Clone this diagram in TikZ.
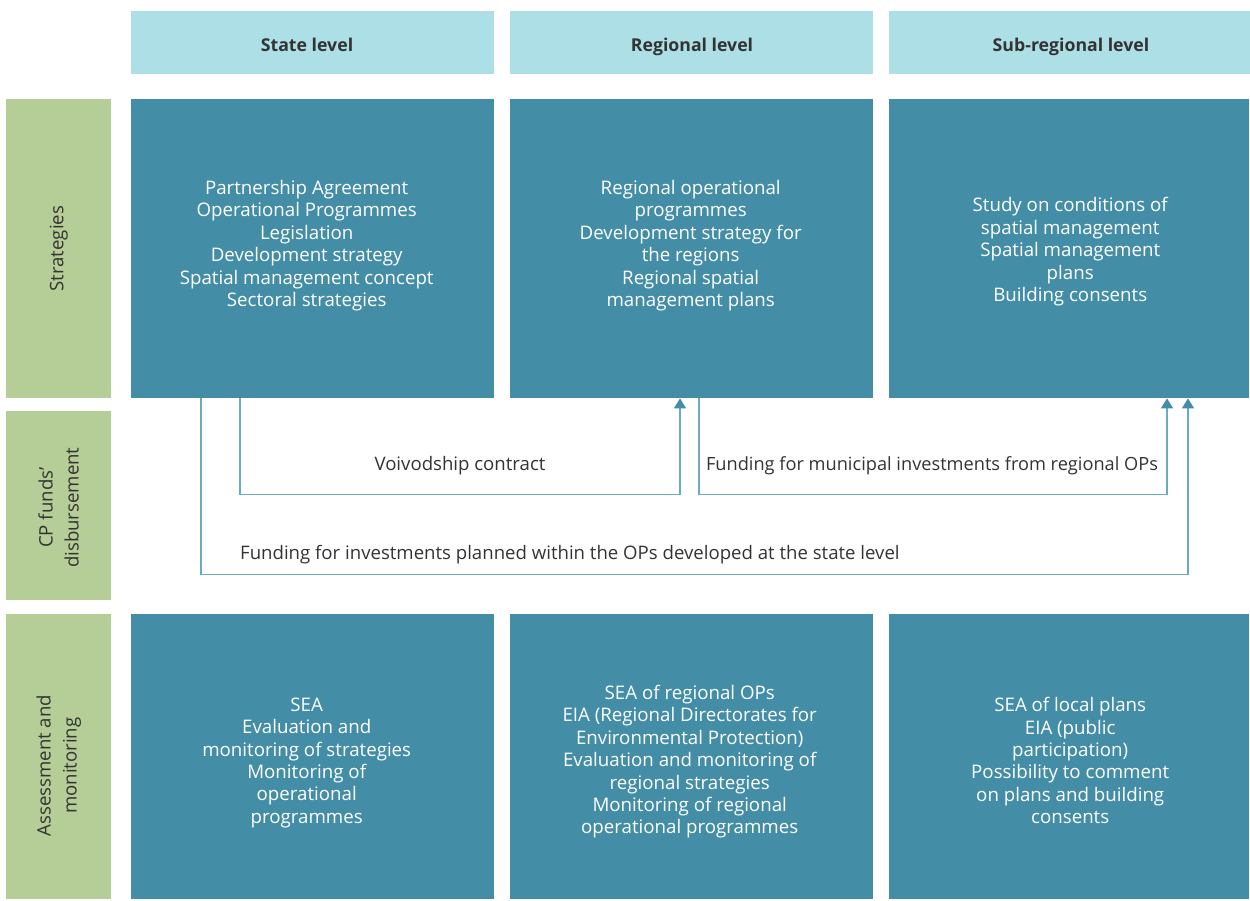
\documentclass[tikz,border=0pt]{standalone}
\usepackage{fontspec}
\setmainfont{Open Sans}
\usetikzlibrary{arrows.meta,positioning}
\definecolor{hdr}{HTML}{ADDFE7}
\definecolor{grn}{HTML}{B5CD96}
\definecolor{mainbox}{HTML}{438DA7}
\definecolor{conncol}{HTML}{6AABBE}
\definecolor{tipcol}{HTML}{438DA7}
\definecolor{txt}{HTML}{333333}
\tikzset{
  hdrbox/.style={fill=hdr, inner sep=0pt, anchor=north west, minimum height=63pt},
  hdrtext/.style={inner sep=0pt, anchor=base, text=txt, font=\fontsize{17.7}{21}\selectfont\bfseries},
  sidebox/.style={fill=grn, inner sep=0pt, anchor=north west, minimum width=105pt},
  sidelabel/.style={rotate=90, align=center, text=txt, font=\fontsize{18.6}{26}\selectfont},
  cellbox/.style={fill=mainbox, inner sep=0pt, anchor=north west},
  celltext/.style={inner sep=0pt, text=white, align=center, font=\fontsize{18.7}{22.4}\selectfont},
  conn/.style={draw=conncol, line width=1.5pt},
  connarrow/.style={conn, -{Triangle[width=12pt,length=10pt,color=tipcol,fill=tipcol]}},
  connlabel/.style={text=txt, font=\fontsize{18.6}{22}\selectfont, inner sep=0pt}
}
\begin{document}
\begin{tikzpicture}[x=1pt,y=-1pt]
\useasboundingbox (0,0) rectangle (1250,900);
% headers
\node[hdrbox, minimum width=363pt] (h1) at (131,11) {};
\node[hdrtext] (h1t) at (307,51) {State level};
\node[hdrbox, minimum width=363pt] (h2) at (510,11) {};
\node[hdrtext] (h2t) at (692,51) {Regional level};
\node[hdrbox, minimum width=361pt] (h3) at (889,11) {};
\node[hdrtext] (h3t) at (1071,51) {Sub-regional level};
% side labels
\node[sidebox, minimum height=299pt] (g1) at (6,99) {};
\node[sidelabel] (g1t) at (g1.center) {Strategies};
\node[sidebox, minimum height=189pt] (g2) at (6,411) {};
\node[sidelabel] (g2t) at ([yshift=-2pt]g2.center) {CP funds’\\disbursement};
\node[sidebox, minimum height=285pt] (g3) at (6,614) {};
\node[sidelabel] (g3t) at ([yshift=-9pt]g3.center) {Assessment and\\monitoring};
% strategies row
\node[cellbox, minimum width=363pt, minimum height=299pt] (s1) at (131,99) {};
\node[celltext] (s1t) at ([xshift=-6pt,yshift=3pt]s1.center) {Partnership Agreement\\Operational Programmes\\Legislation\\Development strategy\\Spatial management concept\\Sectoral strategies};
\node[cellbox, minimum width=363pt, minimum height=299pt] (s2) at (510,99) {};
\node[celltext] (s2t) at ([xshift=-1pt,yshift=3pt]s2.center) {Regional operational\\programmes\\Development strategy for\\the regions\\Regional spatial\\management plans};
\node[cellbox, minimum width=360pt, minimum height=299pt] (s3) at (889,99) {};
\node[celltext] (s3t) at ([xshift=1pt,yshift=-3pt]s3.center) {Study on conditions of\\spatial management\\Spatial management\\plans\\Building consents};
% assessment row
\node[cellbox, minimum width=363pt, minimum height=285pt] (a1) at (131,614) {};
\node[celltext] (a1t) at ([xshift=-6pt,yshift=-6pt]a1.center) {SEA\\Evaluation and\\monitoring of strategies\\Monitoring of\\operational\\programmes};
\node[cellbox, minimum width=363pt, minimum height=285pt] (a2) at (510,614) {};
\node[celltext] (a2t) at ([xshift=-2pt,yshift=-5pt]a2.center) {SEA of regional OPs\\EIA (Regional Directorates for\\Environmental Protection)\\Evaluation and monitoring of\\regional strategies\\Monitoring of regional\\operational programmes};
\node[cellbox, minimum width=360pt, minimum height=285pt] (a3) at (889,614) {};
\node[celltext] (a3t) at ([xshift=1pt,yshift=-4pt]a3.center) {SEA of local plans\\EIA (public\\participation)\\Possibility to comment\\on plans and building\\consents};
% connectors
\coordinate (c1) at ([xshift=109pt]s1.south west);
\coordinate (c1t) at ([xshift=170pt]s2.south west);
\draw[connarrow] (c1) -- ++(0,96) -| (c1t);
\node[connlabel] (l1) at (460,466) {Voivodship contract};
\coordinate (c2) at ([xshift=189pt]s2.south west);
\coordinate (c2t) at ([xshift=278pt]s3.south west);
\draw[connarrow] (c2) -- ++(0,96) -| (c2t);
\node[connlabel, font=\fontsize{18.2}{22}\selectfont] (l2) at (932,466) {Funding for municipal investments from regional OPs};
\coordinate (c3) at ([xshift=70pt]s1.south west);
\coordinate (c3t) at ([xshift=299pt]s3.south west);
\draw[connarrow] (c3) -- ++(0,176) -| (c3t);
\node[connlabel, anchor=west] (l3) at (240,555) {Funding for investments planned within the OPs developed at the state level};
\end{tikzpicture}
\end{document}
